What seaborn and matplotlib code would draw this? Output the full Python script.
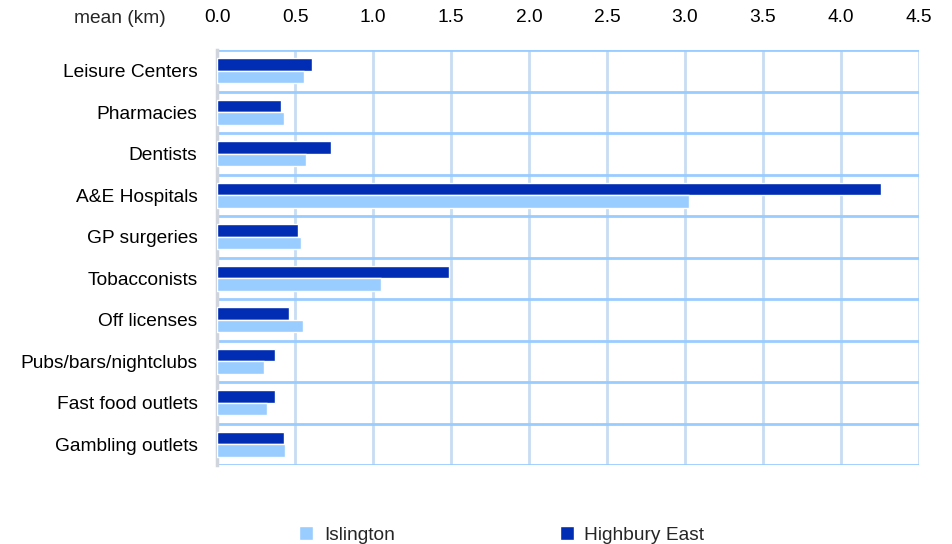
import numpy as np
import pandas as pd
import matplotlib
matplotlib.use("Agg")
import matplotlib.pyplot as plt
import seaborn as sns
from matplotlib.patches import Patch
from matplotlib.ticker import FixedLocator

# data
categories = ["Leisure Centers", "Pharmacies", "Dentists", "A&E Hospitals", "GP surgeries",
              "Tobacconists", "Off licenses", "Pubs/bars/nightclubs", "Fast food outlets",
              "Gambling outlets"]
highbury_east = [0.61, 0.41, 0.73, 4.26, 0.52, 1.49, 0.46, 0.37, 0.37, 0.43]
islington = [0.56, 0.43, 0.57, 3.03, 0.54, 1.05, 0.55, 0.30, 0.32, 0.435]
xticks = [0.0, 0.5, 1.0, 1.5, 2.0, 2.5, 3.0, 3.5, 4.0, 4.5]

dark = "#002db3"
light = "#99ccff"

df = pd.DataFrame({
    "Category": categories * 2,
    "Area": ["Highbury East"] * len(categories) + ["Islington"] * len(categories),
    "Value": highbury_east + islington,
})

sns.set_style("white")
plt.rcParams["font.family"] = ["Liberation Sans", "DejaVu Sans"]
FS = 13.8

fig = plt.figure(figsize=(9.52, 5.44), dpi=100)
ax = fig.add_axes([0.228, 0.145, 0.737, 0.763])

sns.barplot(data=df, y="Category", x="Value", hue="Area",
            hue_order=["Highbury East", "Islington"], order=categories,
            palette=[dark, light], orient="h", width=0.6,
            saturation=1, legend=False, ax=ax, zorder=3)

ax.set_xlim(0, 4.5)
ax.set_ylim(len(categories) - 0.5, -0.5)
ax.xaxis.tick_top()
ax.set_xticks(xticks)
ax.set_xticklabels([f"{t:.1f}" for t in xticks])
ax.yaxis.set_minor_locator(FixedLocator(np.arange(-0.5, len(categories), 1.0)))
ax.tick_params(axis="both", which="both", length=0, labelsize=FS, colors="black")
ax.tick_params(axis="x", pad=17)
ax.tick_params(axis="y", pad=14)
ax.set_xlabel("")
ax.set_ylabel("")

ax.grid(axis="x", which="major", color="#c8dcf2", linewidth=2, zorder=0)
ax.grid(axis="y", which="minor", color=light, linewidth=2, zorder=1)
ax.grid(axis="y", which="major", visible=False)
for s in ["top", "right", "bottom"]:
    ax.spines[s].set_visible(False)
ax.spines["left"].set_color("#d0d4dc")
ax.spines["left"].set_linewidth(2.5)

fig.text(0.126, 0.966, "mean (km)", fontsize=FS, ha="center", va="center")

handles = [Patch(facecolor=light, label="Islington"),
           Patch(facecolor=dark, label="Highbury East")]
fig.legend(handles=handles, loc="center", bbox_to_anchor=(0.527, 0.016), ncol=2,
           frameon=False, fontsize=FS, handlelength=0.75, handleheight=0.75,
           columnspacing=8.6, handletextpad=0.55)

fig.savefig("out.png", dpi=100)
